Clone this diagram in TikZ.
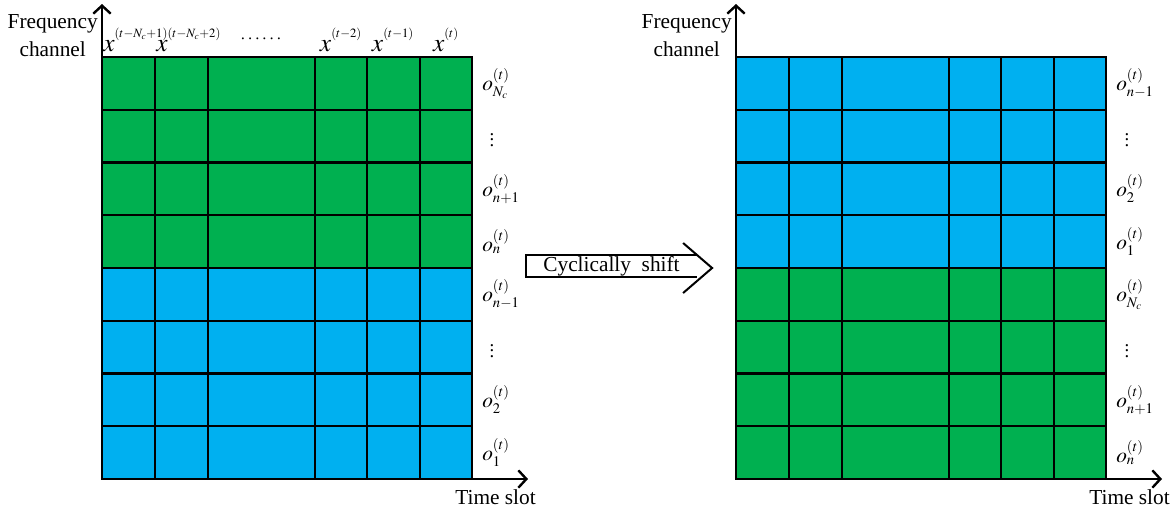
\documentclass[tikz,border=0pt]{standalone}
\usepackage{mathptmx}
\usepackage{fontspec}
\setmainfont{Liberation Serif}
\usetikzlibrary{arrows.meta}
\definecolor{chgreen}{RGB}{0,176,80}
\definecolor{chblue}{RGB}{0,176,240}
% script text of a given size inside labels
\newcommand\scr[2]{\mbox{\fontsize{#1}{#1}\selectfont$#2$}}
% slot label: big x with a small time index
\newcommand\slotx[1]{$x^{\raisebox{3pt}{\scr{9.5}{#1}}}$}
% channel label o_k^(t)
\newcommand\chn[1]{$o_{\scr{11}{#1}}^{\scr{11}{(t)}}$}

\begin{document}
\begin{tikzpicture}[x=0.75pt,y=-0.75pt,
  grid/.style={line width=1.8pt,line cap=rect},
  axis/.style={line width=1.8pt,{Straight Barb[length=6pt,width=13pt]}-{Straight Barb[length=6pt,width=13pt]}},
  lbl/.style={font=\fontsize{16}{21}\selectfont,align=center,inner sep=0pt},
  xlab/.style={font=\fontsize{19}{21}\selectfont,anchor=base,inner sep=0pt},
  chan/.style={font=\fontsize{16}{18}\selectfont,anchor=west,inner sep=0pt},
  dots/.style={font=\fontsize{14}{16}\selectfont,inner sep=0pt}]
\useasboundingbox (0,0) rectangle (1176,512);

% two panels: channels before and after the shift
\foreach \ox/\p/\ctop/\cbot in {0/L/chgreen/chblue,634/R/chblue/chgreen} {
  \fill[\ctop] (102+\ox,57) rectangle (472+\ox,268);
  \fill[\cbot] (102+\ox,268) rectangle (472+\ox,479);
  \foreach \xc in {155,208,315,367,420,472}
    \draw[grid] (\xc+\ox,57) -- (\xc+\ox,479);
  \foreach \k in {0,...,7}
    \draw[grid] (102+\ox,57+52.75*\k) -- (472+\ox,57+52.75*\k);
  \coordinate (org\p) at (102+\ox,479);
  \coordinate (top\p) at (102+\ox,4);
  \coordinate (end\p) at (528+\ox,479);
  \draw[axis] (top\p) -- (org\p) -- (end\p);
  \node[lbl,anchor=east] (freq\p) at (98+\ox,36) {Frequency\\channel};
  \node[lbl,anchor=base east] (slot\p) at (536+\ox,504) {Time slot};
}

% time slot labels
\node[xlab,anchor=base west] (x1) at (103,51) {\slotx{(t{-}N_c{+}1)}};
\node[xlab,anchor=base west] (x2) at (156,51) {\slotx{(t{-}N_c{+}2)}};
\node[xlab] (xd) at (261,43) {\fontsize{14}{16}\selectfont$\cdots\cdots$};
\node[xlab] (x4) at (341,51) {\slotx{(t{-}2)}};
\node[xlab] (x5) at (393,51) {\slotx{(t{-}1)}};
\node[xlab] (x6) at (446,51) {\slotx{(t)}};

% channel labels, left panel
\node[chan] (oL1) at (482,83.4) {\chn{N_c}};
\node[dots] (oL2) at (492,136.1) {$\vdots$};
\node[chan] (oL3) at (482,188.9) {\chn{n{+}1}};
\node[chan] (oL4) at (482,241.6) {\chn{n}};
\node[chan] (oL5) at (482,294.4) {\chn{n{-}1}};
\node[dots] (oL6) at (492,347.1) {$\vdots$};
\node[chan] (oL7) at (482,399.9) {\chn{2}};
\node[chan] (oL8) at (482,452.6) {\chn{1}};

% channel labels, right panel
\node[chan] (oR1) at (1116,83.4) {\chn{n{-}1}};
\node[dots] (oR2) at (1127,136.1) {$\vdots$};
\node[chan] (oR3) at (1116,188.9) {\chn{2}};
\node[chan] (oR4) at (1116,241.6) {\chn{1}};
\node[chan] (oR5) at (1116,294.4) {\chn{N_c}};
\node[dots] (oR6) at (1127,347.1) {$\vdots$};
\node[chan] (oR7) at (1116,399.9) {\chn{n{+}1}};
\node[chan] (oR8) at (1116,452.6) {\chn{n}};

% shift arrow
\node[lbl,minimum width=128pt,minimum height=16.5pt] (cyc) at (611.5,266) {Cyclically\ \ shift};
\draw[line width=1.5pt] (cyc.north east) -- (cyc.north west) -- (cyc.south west) -- (cyc.south east);
\draw[line width=1.5pt] ([shift={(-14,-23)}]cyc.east) -- ([shift={(15,2)}]cyc.east) -- ([shift={(-14,27)}]cyc.east);
\end{tikzpicture}
\end{document}
